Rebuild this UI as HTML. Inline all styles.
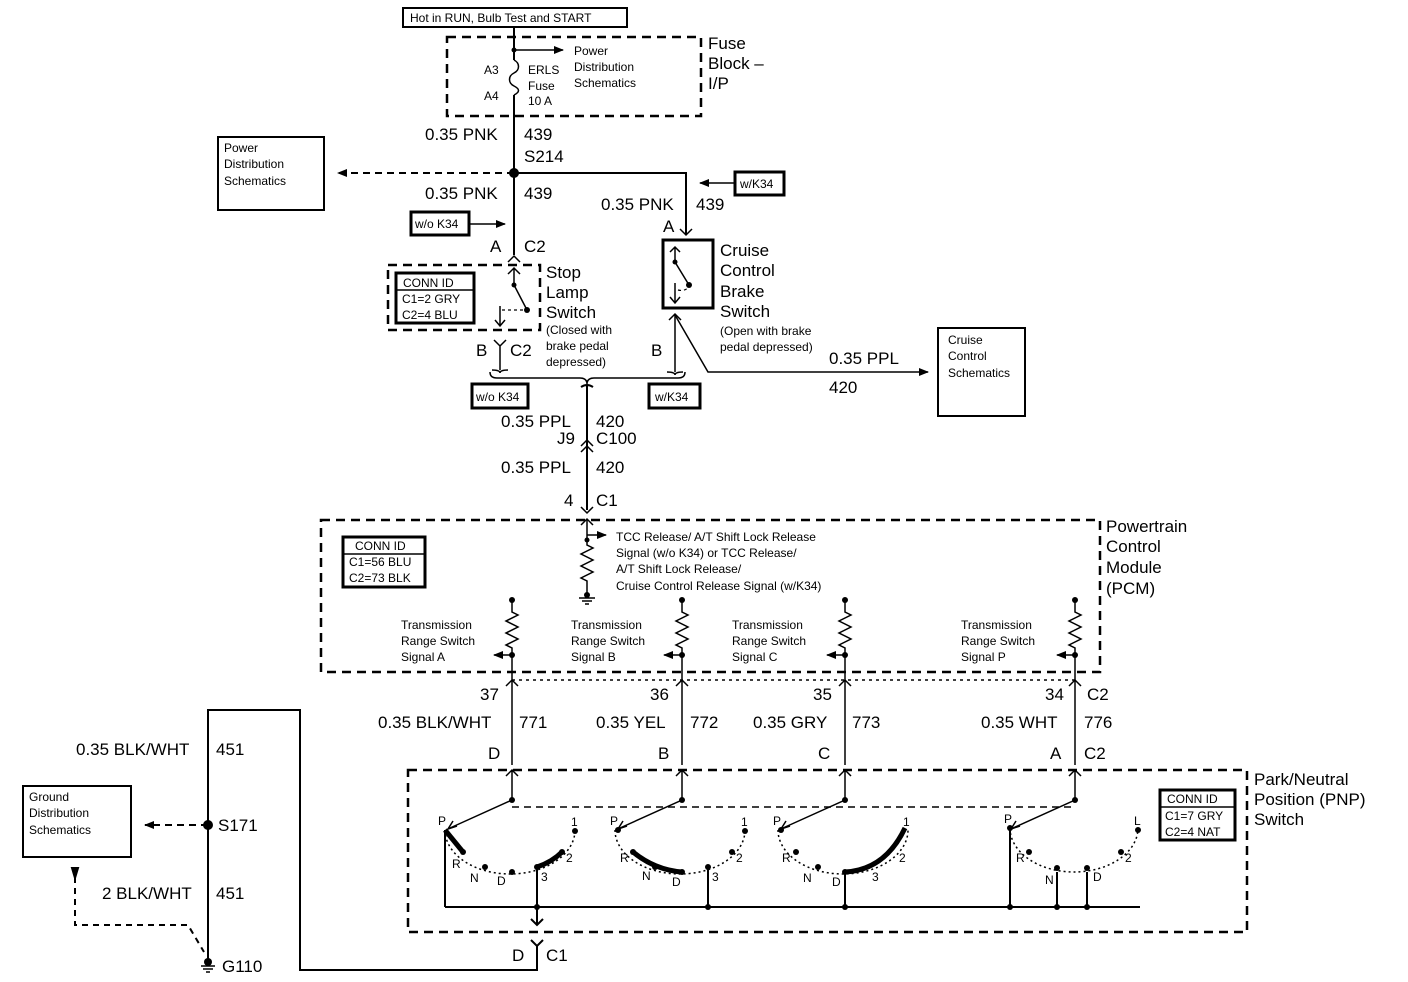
<!DOCTYPE html>
<html><head><meta charset="utf-8"><style>
body{margin:0;background:#fff}
svg{display:block;font-family:"Liberation Sans",Arial,sans-serif}
.b{font-size:17px}
.s{font-size:12px}
</style></head><body>
<svg width="1408" height="982" viewBox="0 0 1408 982" xmlns="http://www.w3.org/2000/svg">
<defs>
<marker id="ar" markerWidth="10" markerHeight="8" refX="9" refY="4" orient="auto" markerUnits="userSpaceOnUse"><path d="M0,0 L10,4 L0,8z" fill="#000"/></marker>
</defs>
<g stroke="#000" fill="none" stroke-width="2">
<rect x="403" y="8" width="224" height="19" stroke-width="2"/>
<rect x="447" y="37" width="254" height="79" stroke-dasharray="9,6" stroke-width="2.5"/>
<path d="M514 27 V60 M514 95 V255"/>
<path d="M514 60 c6 3 6 10 0 13 c-6 3 -6 10 0 13 c6 3 6 6 0 9" stroke-width="1.5"/>
<path d="M514 50 H563" marker-end="url(#ar)" stroke-width="1.5"/>
<path d="M514 173 H338" stroke-dasharray="7,5" marker-end="url(#ar)"/>
<rect x="218" y="137" width="106" height="73"/>
<path d="M514 173 H686 V235"/>
<rect x="411" y="212" width="58" height="23" stroke-width="3"/>
<path d="M469 224 H505" marker-end="url(#ar)" stroke-width="1.5"/>
<rect x="735" y="172" width="49" height="23" stroke-width="3"/>
<path d="M735 183 H700" marker-end="url(#ar)" stroke-width="1.5"/>
<!-- stop lamp -->
<path d="M508 262 L514 256 L520 262" stroke-width="1.5"/>
<path d="M508 274 L514 268 L520 274 M514 268 V285 L527 310" stroke-width="1.5"/>
<rect x="388" y="265" width="152" height="65" stroke-dasharray="9,6" stroke-width="2.5"/>
<rect x="396" y="273" width="78" height="50" stroke-width="3"/>
<path d="M396 290 H474" stroke-width="1.5"/>
<path d="M500 306 V326 M495 320 L500 326 L505 320" stroke-width="1.5"/>
<path d="M502 310 H525" stroke-width="1.2" stroke-dasharray="3,3"/>
<path d="M494 340 L500 346 L506 340 M500 346 V370 M492 370 Q500 370 500 373 Q500 370 508 370" stroke-width="1.5"/>
<!-- cruise -->
<path d="M680 229 L686 235 L692 229" stroke-width="1.5"/>
<rect x="663" y="240" width="50" height="68" stroke-width="3"/>
<path d="M675 247 V262 L689 285 M670 252 L675 247 L680 252 M675 283 V303 M670 297 L675 303 L680 297" stroke-width="1.5"/>
<path d="M678 290 Q686 292 690 285" stroke-width="1.2" stroke-dasharray="3,3"/>
<path d="M669 320 L675 314 L681 320 M675 315 V372 M667 372 Q675 372 675 375 Q675 372 683 372" stroke-width="1.5"/>
<path d="M675 315 L708 372 H928" marker-end="url(#ar)" stroke-width="1.5"/>
<rect x="938" y="328" width="87" height="88"/>
<!-- brace -->
<path d="M490 372 Q490 378 497 378 H580 Q587 378 587 384 Q587 378 594 378 H678 Q685 378 685 372" stroke-width="1.5"/>
<rect x="472" y="384" width="56" height="24" stroke-width="3"/>
<rect x="649" y="384" width="51" height="24" stroke-width="3"/>
<path d="M581 387 Q587 383 593 387 M587 385 V510"/>
<path d="M581 446 L587 440 L593 446 M581 452 L587 446 L593 452" stroke-width="1.5"/>
<path d="M581 507 L587 513 L593 507 M581 525 L587 519 L593 525" stroke-width="1.5"/>
<!-- PCM -->
<rect x="321" y="520" width="779" height="152" stroke-dasharray="9,6" stroke-width="2.5"/>
<rect x="343" y="537" width="82" height="50" stroke-width="3"/>
<path d="M343 554 H425" stroke-width="1.5"/>
<path d="M587 519 V545 l6 3 l-12 6 l12 6 l-12 6 l12 6 l-12 6 l6 3 V595 M579 598 H595 M582 601 H592 M585 604 H589" stroke-width="1.5"/>
<path d="M587 535 H606" marker-end="url(#ar)" stroke-width="1.5"/>
<path d="M512 680 H1075" stroke-dasharray="3,4" stroke-width="1.5"/>
<path d="M512 807 H1075" stroke-dasharray="7,5" stroke-width="1.5"/>
<!-- PNP box -->
<rect x="408" y="770" width="839" height="162" stroke-dasharray="9,6" stroke-width="2.5"/>
<rect x="1160" y="790" width="75" height="50" stroke-width="3"/>
<path d="M1160 807 H1235" stroke-width="1.5"/>
<path d="M445 907 H1140 M445 830 V907 M537 867 V925 M708 867 V907 M845 872 V907 M1010 828 V907 M1057 872 V907 M1087 872 V907" stroke-width="2"/>
<path d="M531 919 L537 925 L543 919 M531 940 L537 946 L543 940 M537 946 V970 H300 V710 H208 V962"/>
<path d="M208 825 H145" stroke-dasharray="7,5" marker-end="url(#ar)"/>
<rect x="23" y="786" width="108" height="71"/>
<path d="M75 877 V925 H188 L204 952" stroke-dasharray="6,5"/>
<path d="M72 868 L75 878 L78 868z" fill="#000"/>
<path d="M201 966 H215 M203 969 H213 M206 972 H210" stroke-width="1.5"/>
<g stroke-width="1.5">
<path d="M445 830 A65 44 0 0 0 575 830" stroke-dasharray="2,3"/>
<path d="M615 830 A65 44 0 0 0 745 830" stroke-dasharray="2,3"/>
<path d="M778 830 A65 44 0 0 0 908 830" stroke-dasharray="2,3"/>
<path d="M1010 828 A64 44 0 0 0 1138 828" stroke-dasharray="2,3"/>
</g>
<path d="M445 830 L463 852" stroke-width="5"/>
<path d="M537 867 Q552 862 562 852" stroke-width="5"/>
<path d="M633 852 Q655 870 682 872" stroke-width="5"/>
<path d="M845 872 Q885 870 905 828" stroke-width="5"/>
</g>
<g stroke="#000" fill="none" stroke-width="1.5">
<g id="rs">
<path d="M512 600 V612 l6 3 l-12 6 l12 6 l-12 6 l12 6 l-12 6 l6 3 V765"/>
<path d="M512 655 H494" marker-end="url(#ar)"/>
<path d="M506 686 L512 680 L518 686 M506 776 L512 770 L518 776 M512 770 V800 L450 828" />
<path d="M457 826 L448 829 L453 821"/>
</g>
<use href="#rs" x="170"/>
<use href="#rs" x="333"/>
<use href="#rs" x="563"/>
</g>
<g fill="#000">
<circle cx="514" cy="173" r="5"/><circle cx="514" cy="50" r="2.5"/>
<circle cx="208" cy="825" r="5"/><circle cx="208" cy="962" r="4"/>
<circle cx="587" cy="595" r="3"/><circle cx="587" cy="540" r="2.5"/>
<g id="dt"><circle cx="512" cy="600" r="3"/><circle cx="512" cy="655" r="3"/><circle cx="512" cy="800" r="3"/></g>
<use href="#dt" x="170"/><use href="#dt" x="333"/><use href="#dt" x="563"/>
<circle cx="463" cy="852" r="3"/><circle cx="485" cy="867" r="3"/><circle cx="512" cy="872" r="3"/><circle cx="537" cy="867" r="3"/><circle cx="562" cy="852" r="3"/><circle cx="575" cy="831" r="3"/>
<circle cx="618" cy="830" r="3"/><circle cx="633" cy="852" r="3"/><circle cx="655" cy="867" r="3"/><circle cx="682" cy="872" r="3"/><circle cx="708" cy="867" r="3"/><circle cx="732" cy="852" r="3"/><circle cx="745" cy="831" r="3"/>
<circle cx="781" cy="830" r="3"/><circle cx="796" cy="852" r="3"/><circle cx="818" cy="867" r="3"/><circle cx="845" cy="872" r="3"/><circle cx="1010" cy="828" r="3"/><circle cx="1029" cy="852" r="3"/><circle cx="1057" cy="868" r="3"/><circle cx="1087" cy="868" r="3"/><circle cx="1121" cy="852" r="3"/><circle cx="1138" cy="830" r="3"/>
<circle cx="537" cy="907" r="3"/><circle cx="708" cy="907" r="3"/><circle cx="845" cy="907" r="3"/><circle cx="1010" cy="907" r="3"/><circle cx="1057" cy="907" r="3"/><circle cx="1087" cy="907" r="3"/>
<circle cx="514" cy="285" r="2.5"/><circle cx="527" cy="310" r="3"/><circle cx="675" cy="262" r="2.5"/><circle cx="689" cy="285" r="3"/>
</g>
<g fill="#000">
<text x="410" y="22" class="s">Hot in RUN, Bulb Test and START</text>
<text x="708" y="49" class="b">Fuse</text><text x="708" y="69" class="b">Block –</text><text x="708" y="89" class="b">I/P</text>
<text x="484" y="74" class="s">A3</text><text x="484" y="100" class="s">A4</text>
<text x="528" y="74" class="s">ERLS</text><text x="528" y="90" class="s">Fuse</text><text x="528" y="105" class="s">10 A</text>
<text x="574" y="55" class="s">Power</text><text x="574" y="71" class="s">Distribution</text><text x="574" y="87" class="s">Schematics</text>
<text x="224" y="152" class="s">Power</text><text x="224" y="168" class="s">Distribution</text><text x="224" y="185" class="s">Schematics</text>
<text x="425" y="140" class="b">0.35 PNK</text><text x="524" y="140" class="b">439</text><text x="524" y="162" class="b">S214</text>
<text x="425" y="199" class="b">0.35 PNK</text><text x="524" y="199" class="b">439</text>
<text x="415" y="228" class="s">w/o K34</text><text x="740" y="188" class="s">w/K34</text>
<text x="601" y="210" class="b">0.35 PNK</text><text x="696" y="210" class="b">439</text><text x="663" y="232" class="b">A</text>
<text x="490" y="252" class="b">A</text><text x="524" y="252" class="b">C2</text>
<text x="403" y="287" class="s">CONN ID</text><text x="402" y="303" class="s">C1=2 GRY</text><text x="402" y="319" class="s">C2=4 BLU</text>
<text x="546" y="278" class="b">Stop</text><text x="546" y="298" class="b">Lamp</text><text x="546" y="318" class="b">Switch</text>
<text x="546" y="334" class="s">(Closed with</text><text x="546" y="350" class="s">brake pedal</text><text x="546" y="366" class="s">depressed)</text>
<text x="476" y="356" class="b">B</text><text x="510" y="356" class="b">C2</text><text x="651" y="356" class="b">B</text>
<text x="720" y="256" class="b">Cruise</text><text x="720" y="276" class="b">Control</text><text x="720" y="297" class="b">Brake</text><text x="720" y="317" class="b">Switch</text>
<text x="720" y="335" class="s">(Open with brake</text><text x="720" y="351" class="s">pedal depressed)</text>
<text x="829" y="364" class="b">0.35 PPL</text><text x="829" y="393" class="b">420</text>
<text x="948" y="344" class="s">Cruise</text><text x="948" y="360" class="s">Control</text><text x="948" y="377" class="s">Schematics</text>
<text x="476" y="401" class="s">w/o K34</text><text x="655" y="401" class="s">w/K34</text>
<text x="501" y="427" class="b">0.35 PPL</text><text x="596" y="427" class="b">420</text>
<text x="557" y="444" class="b">J9</text><text x="596" y="444" class="b">C100</text>
<text x="501" y="473" class="b">0.35 PPL</text><text x="596" y="473" class="b">420</text>
<text x="564" y="506" class="b">4</text><text x="596" y="506" class="b">C1</text>
<text x="1106" y="532" class="b">Powertrain</text><text x="1106" y="552" class="b">Control</text><text x="1106" y="573" class="b">Module</text><text x="1106" y="594" class="b">(PCM)</text>
<text x="355" y="550" class="s">CONN ID</text><text x="349" y="566" class="s">C1=56 BLU</text><text x="349" y="582" class="s">C2=73 BLK</text>
<text x="616" y="541" class="s">TCC Release/ A/T Shift Lock Release</text><text x="616" y="557" class="s">Signal (w/o K34) or TCC Release/</text><text x="616" y="573" class="s">A/T Shift Lock Release/</text><text x="616" y="590" class="s">Cruise Control Release Signal (w/K34)</text>
<text x="401" y="629" class="s">Transmission</text><text x="401" y="645" class="s">Range Switch</text><text x="401" y="661" class="s">Signal A</text>
<text x="571" y="629" class="s">Transmission</text><text x="571" y="645" class="s">Range Switch</text><text x="571" y="661" class="s">Signal B</text>
<text x="732" y="629" class="s">Transmission</text><text x="732" y="645" class="s">Range Switch</text><text x="732" y="661" class="s">Signal C</text>
<text x="961" y="629" class="s">Transmission</text><text x="961" y="645" class="s">Range Switch</text><text x="961" y="661" class="s">Signal P</text>
<text x="480" y="700" class="b">37</text><text x="650" y="700" class="b">36</text><text x="813" y="700" class="b">35</text><text x="1045" y="700" class="b">34</text><text x="1087" y="700" class="b">C2</text>
<text x="378" y="728" class="b">0.35 BLK/WHT</text><text x="519" y="728" class="b">771</text>
<text x="596" y="728" class="b">0.35 YEL</text><text x="690" y="728" class="b">772</text>
<text x="753" y="728" class="b">0.35 GRY</text><text x="852" y="728" class="b">773</text>
<text x="981" y="728" class="b">0.35 WHT</text><text x="1084" y="728" class="b">776</text>
<text x="488" y="759" class="b">D</text><text x="658" y="759" class="b">B</text><text x="818" y="759" class="b">C</text><text x="1050" y="759" class="b">A</text><text x="1084" y="759" class="b">C2</text>
<text x="1254" y="785" class="b">Park/Neutral</text><text x="1254" y="805" class="b">Position (PNP)</text><text x="1254" y="825" class="b">Switch</text>
<text x="1167" y="803" class="s">CONN ID</text><text x="1165" y="820" class="s">C1=7 GRY</text><text x="1165" y="836" class="s">C2=4 NAT</text>
<text x="76" y="755" class="b">0.35 BLK/WHT</text><text x="216" y="755" class="b">451</text>
<text x="218" y="831" class="b">S171</text>
<text x="29" y="801" class="s">Ground</text><text x="29" y="817" class="s">Distribution</text><text x="29" y="834" class="s">Schematics</text>
<text x="102" y="899" class="b">2 BLK/WHT</text><text x="216" y="899" class="b">451</text>
<text x="222" y="972" class="b">G110</text>
<text x="512" y="961" class="b">D</text><text x="546" y="961" class="b">C1</text>
<g class="s">
<text x="438" y="825">P</text><text x="452" y="868">R</text><text x="470" y="882">N</text><text x="497" y="885">D</text><text x="541" y="881">3</text><text x="566" y="862">2</text><text x="571" y="826">1</text>
<text x="610" y="825">P</text><text x="620" y="862">R</text><text x="642" y="880">N</text><text x="672" y="886">D</text><text x="712" y="881">3</text><text x="736" y="862">2</text><text x="741" y="826">1</text>
<text x="773" y="825">P</text><text x="782" y="862">R</text><text x="803" y="882">N</text><text x="832" y="886">D</text><text x="872" y="881">3</text><text x="899" y="862">2</text><text x="903" y="826">1</text>
<text x="1004" y="823">P</text><text x="1016" y="862">R</text><text x="1045" y="884">N</text><text x="1093" y="881">D</text><text x="1125" y="862">2</text><text x="1134" y="825">L</text>
</g>
</g>
</svg>
</body></html>
